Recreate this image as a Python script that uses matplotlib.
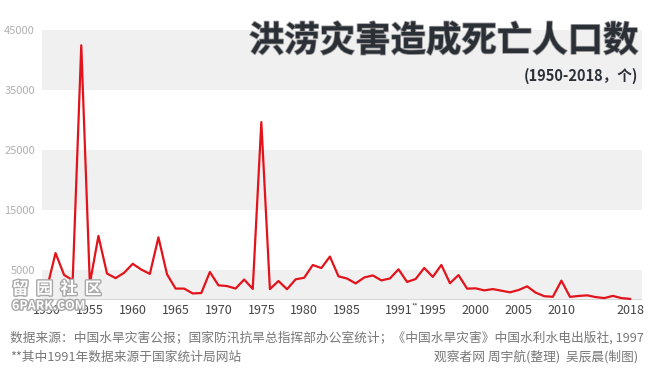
import matplotlib
matplotlib.use("Agg")
import matplotlib.pyplot as plt
import matplotlib.patheffects as pe

plt.rcParams['font.family'] = ['Noto Sans CJK SC', 'DejaVu Sans']

# deaths caused by floods in China, 1950-2018
years = list(range(1950, 2019))
deaths = [1982, 7819, 4162, 3308, 42447, 2718, 10676, 4415, 3642, 4540,
          6033, 5074, 4350, 10441, 4288, 1906, 1901, 1095, 1159, 4667,
          2444, 2323, 1910, 3413, 1849, 29653, 1817, 3163, 1796, 3446,
          3705, 5832, 5323, 7238, 3941, 3578, 2761, 3749, 4094, 3270,
          3589, 5113, 3012, 3499, 5340, 3852, 5840, 2799, 4150, 1896,
          1942, 1605, 1819, 1551, 1282, 1660, 2276, 1230, 633, 538,
          3222, 519, 673, 775, 486, 319, 686, 316, 187]

xtick_years = [1950, 1955, 1960, 1965, 1970, 1975, 1980, 1985, 1991, 1995,
               2000, 2005, 2010, 2018]
ytick_values = [5000, 15000, 25000, 35000, 45000]
bands = [(0, 5000), (15000, 25000), (35000, 45000)]

fig = plt.figure(figsize=(6.5, 3.8), dpi=100)
ax = fig.add_axes([42/650, 80/380, 600/650, 270/380])

for lo, hi in bands:
    ax.axhspan(lo, hi, color='#f0f0f0', lw=0, zorder=0)
ax.axhline(0, color='#d4d4d4', lw=2, zorder=1)

ax.plot(years, deaths, color='#e3131b', lw=1.6, zorder=3)

ax.set_xlim(1949.42, 2019.4)
ax.set_ylim(0, 45000)
for s in ax.spines.values():
    s.set_visible(False)
ax.set_yticks(ytick_values)
ax.set_yticklabels([str(v) for v in ytick_values])
ax.tick_params(axis='y', length=0, pad=5, labelsize=8, labelcolor='#b0b0b0')
ax.set_xticks(xtick_years)
ax.set_xticklabels([str(y) for y in xtick_years])
ax.tick_params(axis='x', length=0, pad=3, labelsize=9, labelcolor='#444444')

# superscript marker after 1991
ax.text(1991 + 1.55, -500, '**', fontsize=5, color='#444444',
        ha='left', va='top', clip_on=False)

# title
fig.text(638/650, 1 - 41/380, '洪涝灾害造成死亡人口数', fontsize=25.5, fontweight='black',
         color='#2b2f36', ha='right', va='center',
         path_effects=[pe.withStroke(linewidth=1.2, foreground='#9a9a9a')])
fig.text(638/650, 1 - 76/380, '(1950-2018，个)', fontsize=10.5, fontweight='bold',
         color='#2b2f36', ha='right', va='center')

# footer
fig.text(10/650, 1 - 338/380,
         '数据来源：中国水旱灾害公报；国家防汛抗旱总指挥部办公室统计；《中国水旱灾害》中国水利水电出版社, 1997',
         fontsize=9.15, color='#777777', ha='left', va='center')
fig.text(10/650, 1 - 357/380, '**其中1991年数据来源于国家统计局网站',
         fontsize=9.15, color='#777777', ha='left', va='center')
fig.text(638/650, 1 - 357/380, '观察者网 周宇航(整理)  吴辰晨(制图)',
         fontsize=9.15, color='#777777', ha='right', va='center')

# watermark
fig.text(12/650, 1 - 289/380, '留  园  社  区', fontsize=12, fontweight='bold',
         color='white', ha='left', va='center',
         path_effects=[pe.withStroke(linewidth=2, foreground='#a8a8a8')])
fig.text(12/650, 1 - 306/380, '6PARK.COM', fontsize=9, fontweight='bold',
         color='white', ha='left', va='center',
         path_effects=[pe.withStroke(linewidth=2, foreground='#a8a8a8')])

fig.savefig('out.png', dpi=100)
